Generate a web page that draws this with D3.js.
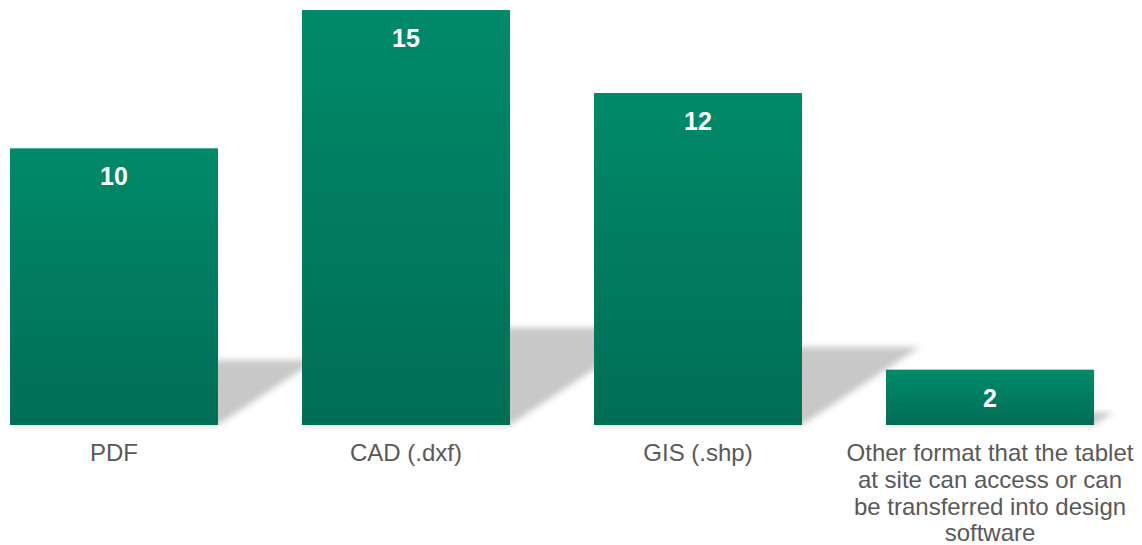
<!DOCTYPE html>
<html>
<head>
<meta charset="utf-8">
<script src="https://cdn.jsdelivr.net/npm/d3@7"></script>
<style>
  html, body { margin: 0; padding: 0; background: #ffffff; }
  svg { display: block; }
</style>
</head>
<body>
<svg id="chart" width="1142" height="545"></svg>
<script>
// Preferred drawing file formats
const categories = [
  "PDF",
  "CAD (.dxf)",
  "GIS (.shp)",
  "Other format that the tablet at site can access or can be transferred into design software"
];
const categoryLines = [
  ["PDF"],
  ["CAD (.dxf)"],
  ["GIS (.shp)"],
  ["Other format that the tablet", "at site can access or can", "be transferred into design", "software"]
];
const values = [10, 15, 12, 2];

const width = 1142, height = 545;
const baseY = 425, topY = 10;

const svg = d3.select("#chart");
const defs = svg.append("defs");

const grad = defs.append("linearGradient")
  .attr("id", "barFill")
  .attr("x1", 0).attr("y1", 0).attr("x2", 0).attr("y2", 1);
grad.append("stop").attr("offset", "0%").attr("stop-color", "#008a6a");
grad.append("stop").attr("offset", "100%").attr("stop-color", "#006e56");

const blur = defs.append("filter")
  .attr("id", "shadowBlur")
  .attr("x", "-20%").attr("y", "-20%").attr("width", "140%").attr("height", "140%");
blur.append("feGaussianBlur").attr("stdDeviation", 3);

const x = d3.scaleBand()
  .domain(categories)
  .range([10, 1094])
  .paddingInner(0.2877)
  .paddingOuter(0);

const y = d3.scaleLinear()
  .domain([0, 15])
  .range([baseY, topY]);

const data = categories.map((c, i) => ({ cat: c, value: values[i], lines: categoryLines[i] }));

// Floor shadows cast to the upper right of each bar
svg.append("g")
  .selectAll("path")
  .data(data)
  .join("path")
  .attr("fill", "#c8c8c8")
  .attr("filter", "url(#shadowBlur)")
  .attr("d", d => {
    const x0 = x(d.cat), x1 = x0 + x.bandwidth();
    const h = baseY - y(d.value);
    const dx = h * 0.355, dy = h * 0.235;
    return `M${x0},${baseY}L${x1},${baseY}L${x1 + dx},${baseY - dy}L${x0 + dx},${baseY - dy}Z`;
  });

// Bars
svg.append("g")
  .selectAll("rect")
  .data(data)
  .join("rect")
  .attr("x", d => x(d.cat))
  .attr("y", d => y(d.value))
  .attr("width", x.bandwidth())
  .attr("height", d => baseY - y(d.value))
  .attr("fill", "url(#barFill)");

// Value labels inside the top of each bar
svg.append("g")
  .selectAll("text")
  .data(data)
  .join("text")
  .attr("x", d => x(d.cat) + x.bandwidth() / 2)
  .attr("y", d => y(d.value) + 37)
  .attr("text-anchor", "middle")
  .attr("font-family", "Liberation Sans, Arial, sans-serif")
  .attr("font-weight", "bold")
  .attr("font-size", 25)
  .attr("fill", "#ffffff")
  .text(d => d.value);

// Category labels below the baseline
const labels = svg.append("g")
  .selectAll("text")
  .data(data)
  .join("text")
  .attr("x", d => x(d.cat) + x.bandwidth() / 2)
  .attr("y", 461)
  .attr("text-anchor", "middle")
  .attr("font-family", "Liberation Sans, Arial, sans-serif")
  .attr("font-size", 24)
  .attr("fill", "#595959");

labels.selectAll("tspan")
  .data(d => d.lines.map(l => ({ l, cx: x(d.cat) + x.bandwidth() / 2 })))
  .join("tspan")
  .attr("x", t => t.cx)
  .attr("dy", (t, i) => i === 0 ? 0 : 26.8)
  .text(t => t.l);
</script>
</body>
</html>
